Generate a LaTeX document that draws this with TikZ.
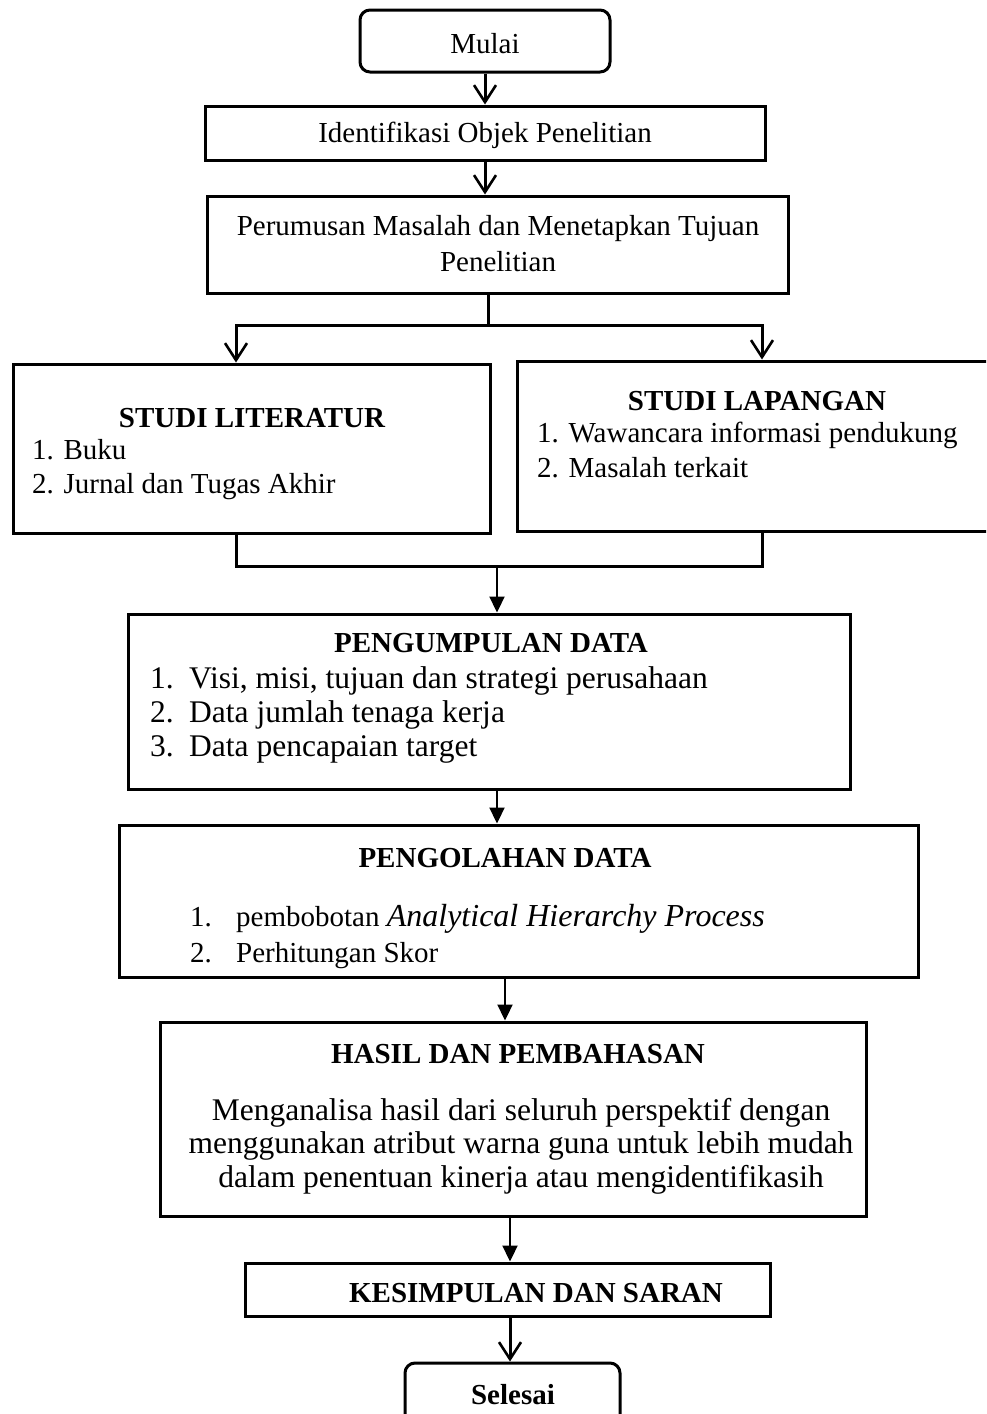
\documentclass[tikz,border=0pt]{standalone}
\usepackage{fontspec}
\setmainfont{Liberation Serif}
\usetikzlibrary{arrows.meta}
\begin{document}
\begin{tikzpicture}[x=1pt,y=-1pt,
  box/.style={draw, line width=3pt, inner sep=0pt, rectangle},
  term/.style={box, rounded corners=10pt},
  txt/.style={inner sep=0pt, anchor=base, font=\fontsize{29}{36}\selectfont},
  txtl/.style={txt, anchor=base west},
  itm/.style={txtl, font=\fontsize{31.5}{36}\selectfont},
  para/.style={txt, font=\fontsize{31.5}{36}\selectfont},
  ttl/.style={txt, font=\fontsize{29}{36}\selectfont\bfseries},
  oarrow/.style={line width=3pt, -{Straight Barb[length=17pt,width=22pt,line width=2.6pt]}},
  farrow/.style={line width=2.2pt, -{Triangle[length=16pt,width=15pt]}},
  conn/.style={line width=3pt}
]
\useasboundingbox (0,0) rectangle (986,1414);
\clip (0,0) rectangle (986,1414);

% boxes
\node[term, minimum width=250, minimum height=62] (mulai) at (485,41) {};
\node[box, minimum width=560, minimum height=54] (ident) at (485,133) {};
\node[box, minimum width=581, minimum height=97] (rumus) at (497.5,244.5) {};
\node[box, minimum width=477, minimum height=169] (lit) at (251.5,448.5) {};
\node[box, minimum width=483, minimum height=170] (lap) at (758.5,446) {};
\node[box, minimum width=722, minimum height=175] (kumpul) at (489,701.5) {};
\node[box, minimum width=799, minimum height=152] (olah) at (518.5,901) {};
\node[box, minimum width=706, minimum height=194] (hasil) at (513,1119) {};
\node[box, minimum width=525, minimum height=53] (simpul) at (507.5,1289.5) {};
\node[term, minimum width=215, minimum height=62] (selesai) at (512.5,1394) {};

% texts
\node[txt] (tmulai) at (485,53) {Mulai};
\node[txt] (tident) at (485,142) {Identifikasi Objek Penelitian};
\node[txt] (trumus1) at (498,235) {Perumusan Masalah dan Menetapkan Tujuan};
\node[txt] (trumus2) at (498,271) {Penelitian};

\node[ttl] (tlit) at (252,427) {STUDI LITERATUR};
\node[txtl] (tlit1) at (32,459) {1. Buku};
\node[txtl] (tlit2) at (32,493) {2. Jurnal dan Tugas Akhir};

\node[ttl] (tlap) at (757,410) {STUDI LAPANGAN};
\node[txtl] (tlap1) at (537,442) {1. Wawancara informasi pendukung};
\node[txtl] (tlap2) at (537,477) {2. Masalah terkait};

\node[ttl] (tkumpul) at (491,652) {PENGUMPULAN DATA};
\node[itm] (tk1n) at (150,688) {1.};
\node[itm] (tk1) at (189,688) {Visi, misi, tujuan dan strategi perusahaan};
\node[itm] (tk2n) at (150,722) {2.};
\node[itm] (tk2) at (189,722) {Data jumlah tenaga kerja};
\node[itm] (tk3n) at (150,756) {3.};
\node[itm] (tk3) at (189,756) {Data pencapaian target};

\node[ttl] (tolah) at (505,867) {PENGOLAHAN DATA};
\node[txtl] (to1n) at (190,926) {1.};
\node[txtl] (to1) at (236,926) {pembobotan {\fontsize{32}{36}\selectfont\itshape Analytical Hierarchy Process}};
\node[txtl] (to2n) at (190,962) {2.};
\node[txtl] (to2) at (236,962) {Perhitungan Skor};

\node[ttl] (thasil) at (518,1063) {HASIL DAN PEMBAHASAN};
\node[para] (th1) at (521,1120) {Menganalisa hasil dari seluruh perspektif dengan};
\node[para] (th2) at (521,1153) {menggunakan atribut warna guna untuk lebih mudah};
\node[para] (th3) at (521,1187) {dalam penentuan kinerja atau mengidentifikasih};

\node[ttl] (tsimpul) at (536,1302) {KESIMPULAN DAN SARAN};
\node[ttl] (tselesai) at (513,1404) {Selesai};

% connector helpers
\coordinate (xl) at (236,0);
\coordinate (xr) at (762,0);
\coordinate (j1) at (488,325);
\coordinate (j2) at (497,566);
\coordinate (x3) at (505,0);
\coordinate (x4) at (510,0);

% connectors
\draw[oarrow] (mulai.south -| ident.north) -- (ident.north);
\draw[oarrow] (ident.south) -- (ident.south |- rumus.north);
\draw[conn] (j1 |- rumus.south) -- (j1);
\draw[oarrow] (j1) -| (xl |- lit.north);
\draw[oarrow] (j1) -| (xr |- lap.north);
\draw[conn] (xl |- lit.south) |- (j2);
\draw[conn] (xr |- lap.south) |- (j2);
\draw[farrow] (j2) -- (j2 |- kumpul.north);
\draw[farrow] (j2 |- kumpul.south) -- (j2 |- olah.north);
\draw[farrow] (x3 |- olah.south) -- (x3 |- hasil.north);
\draw[farrow] (x4 |- hasil.south) -- (x4 |- simpul.north);
\draw[oarrow] (x4 |- simpul.south) -- (x4 |- selesai.north);
\end{tikzpicture}
\end{document}
